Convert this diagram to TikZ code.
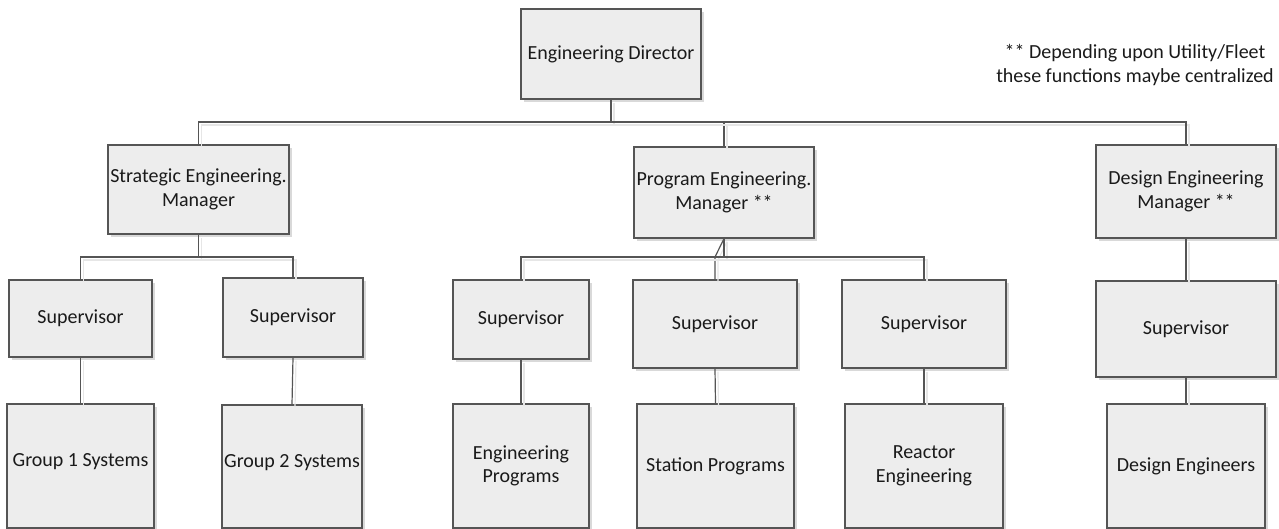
\documentclass[tikz,border=0pt]{standalone}
\usepackage{fontspec}
\setmainfont{Carlito}
\definecolor{boxfill}{HTML}{EDEDED}
\definecolor{boxline}{HTML}{555555}
\definecolor{shadowc}{HTML}{D9D9D9}
\definecolor{lineshadow}{HTML}{E6E6E6}
\definecolor{txt}{HTML}{1A1A1A}
\tikzset{
  orgbox/.style={draw=boxline, fill=boxfill, line width=1.2pt, inner sep=0pt,
    align=center, text=txt,
    preaction={fill=shadowc, transform canvas={xshift=3pt, yshift=-3pt}}},
  conn/.style={draw=boxline, line width=1.2pt,
    preaction={draw=lineshadow, line width=1.2pt, transform canvas={xshift=3pt, yshift=-3pt}}},
}
\begin{document}
\begin{tikzpicture}[x=1pt, y=-1pt, font=\fontsize{20}{23.5}\selectfont]
\useasboundingbox (0,0) rectangle (1279,529);
% top level
\node[orgbox, minimum width=180pt, minimum height=90pt] (dir) at (611,54) {Engineering Director};
% managers
\node[orgbox, minimum width=181pt, minimum height=89pt] (strat) at (198.5,189.5) {Strategic Engineering.\\Manager};
\node[orgbox, minimum width=180pt, minimum height=91pt] (prog) at (724,192.5) {Program Engineering.\\Manager **};
\node[orgbox, minimum width=180pt, minimum height=93pt] (design) at (1186,191.5) {Design Engineering\\Manager **};
% supervisors
\node[orgbox, minimum width=143pt, minimum height=77pt] (sup1) at (80.5,318.5) {Supervisor};
\node[orgbox, minimum width=140pt, minimum height=79pt] (sup2) at (293,317.5) {Supervisor};
\node[orgbox, minimum width=136pt, minimum height=79pt] (sup3) at (521,319.5) {Supervisor};
\node[orgbox, minimum width=164pt, minimum height=88pt] (sup4) at (715,324) {Supervisor};
\node[orgbox, minimum width=164pt, minimum height=88pt] (sup5) at (924,324) {Supervisor};
\node[orgbox, minimum width=180pt, minimum height=96pt] (sup6) at (1186,329) {Supervisor};
% bottom row
\node[orgbox, minimum width=147pt, minimum height=124pt] (g1) at (80.5,466) {\raisebox{11pt}{Group 1 Systems}};
\node[orgbox, minimum width=140pt, minimum height=123pt] (g2) at (292,466.5) {\raisebox{11pt}{Group 2 Systems}};
\node[orgbox, minimum width=136pt, minimum height=124pt] (ep) at (521,466) {Engineering\\Programs};
\node[orgbox, minimum width=157pt, minimum height=124pt] (sp) at (715.5,466) {Station Programs};
\node[orgbox, minimum width=158pt, minimum height=124pt] (re) at (924,466) {Reactor\\Engineering};
\node[orgbox, minimum width=158pt, minimum height=124pt] (de) at (1186,466) {Design Engineers};
% note
\node[align=center, text=txt, inner sep=0pt] (note) at (1135,65) {** Depending upon Utility/Fleet\\these functions maybe centralized};
% connectors: top level
\coordinate (b1) at (611,122);
\path[conn] (dir.south) -- (b1);
\path[conn] (b1) -| (strat.north);
\path[conn] (b1) -| (prog.north);
\path[conn] (b1) -| (design.north);
% strategic branch
\coordinate (b2) at (198.5,257);
\path[conn] (strat.south) -- (b2);
\path[conn] (b2) -| (sup1.north);
\path[conn] (b2) -| (sup2.north);
\path[conn] (sup1.south) -- (g1.north);
\path[conn] (sup2.south) -- (g2.north);
% program branch
\coordinate (b3) at (715,257);
\path[conn] (prog.south) -- (b3) -- (sup4.north);
\path[conn] (prog.south) -- (prog.south |- b3);
\path[conn] (b3) -| (sup3.north);
\path[conn] (b3) -| (sup5.north);
\path[conn] (sup3.south) -- (ep.north);
\path[conn] (sup4.south) -- (sp.north);
\path[conn] (sup5.south) -- (re.north);
% design branch
\path[conn] (design.south) -- (sup6.north);
\path[conn] (sup6.south) -- (de.north);
\end{tikzpicture}
\end{document}
